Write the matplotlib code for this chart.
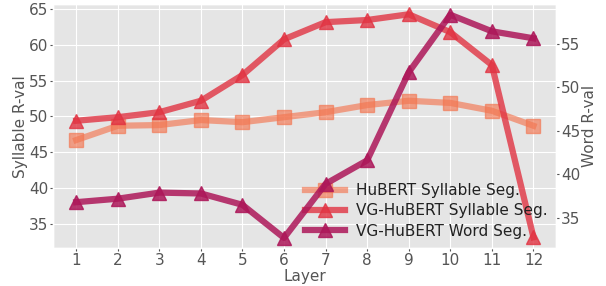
import matplotlib.pyplot as plt

plt.style.use('ggplot')

layers = list(range(1, 13))
hubert_syl = [46.7, 48.7, 48.8, 49.5, 49.2, 49.9, 50.6, 51.6, 52.2, 51.9, 50.8, 48.7]
vg_syl = [49.4, 49.9, 50.6, 52.2, 55.8, 60.8, 63.2, 63.5, 64.3, 61.8, 57.2, 33.1]
vg_word = [36.8, 37.2, 37.9, 37.8, 36.5, 32.7, 38.9, 41.6, 51.7, 58.3, 56.4, 55.6]

c_hub = '#f37651'
c_vgs = '#e13342'
c_vgw = '#ad1759'


def run():
    fig, ax = plt.subplots(figsize=(6.06, 2.86), dpi=100)
    ax2 = ax.twinx()

    l1, = ax.plot(layers, hubert_syl, color=c_hub, marker='s', lw=4.5, ms=10, alpha=0.65,
                  label='HuBERT Syllable Seg.')
    l2, = ax.plot(layers, vg_syl, color=c_vgs, marker='^', lw=4.5, ms=10, alpha=0.8,
                  label='VG-HuBERT Syllable Seg.')
    l3, = ax2.plot(layers, vg_word, color=c_vgw, marker='^', lw=4.5, ms=10, alpha=0.85,
                   label='VG-HuBERT Word Seg.')

    ax.set_ylim(31.6, 65.7)
    ax2.set_ylim(31.55, 59.5)
    ax.set_xlim(0.45, 12.55)
    ax.set_xticks(layers)
    ax.set_yticks([35, 40, 45, 50, 55, 60, 65])
    ax2.set_yticks([35, 40, 45, 50, 55])
    ax2.grid(False)

    ax.set_xlabel('Layer', fontsize=11, color='#555555', labelpad=1)
    ax.set_ylabel('Syllable R-val', fontsize=11, color='#555555', labelpad=1)
    ax2.set_ylabel('Word R-val', fontsize=11, color='#555555', labelpad=1)
    for a in (ax, ax2):
        a.tick_params(labelsize=11, colors='#555555', labelcolor='#555555',
                      length=2, pad=1.5)

    leg = ax.legend(handles=[l1, l2, l3], loc='lower right', fontsize=11, frameon=False,
                    borderaxespad=0.2, handlelength=2.6, labelspacing=0.35,
                    handletextpad=0.7)
    for t in leg.get_texts():
        t.set_color('#222222')

    fig.subplots_adjust(left=0.088, right=0.918, top=0.985, bottom=0.133)
    plt.savefig('out.png')


if __name__ == '__main__':
    run()
